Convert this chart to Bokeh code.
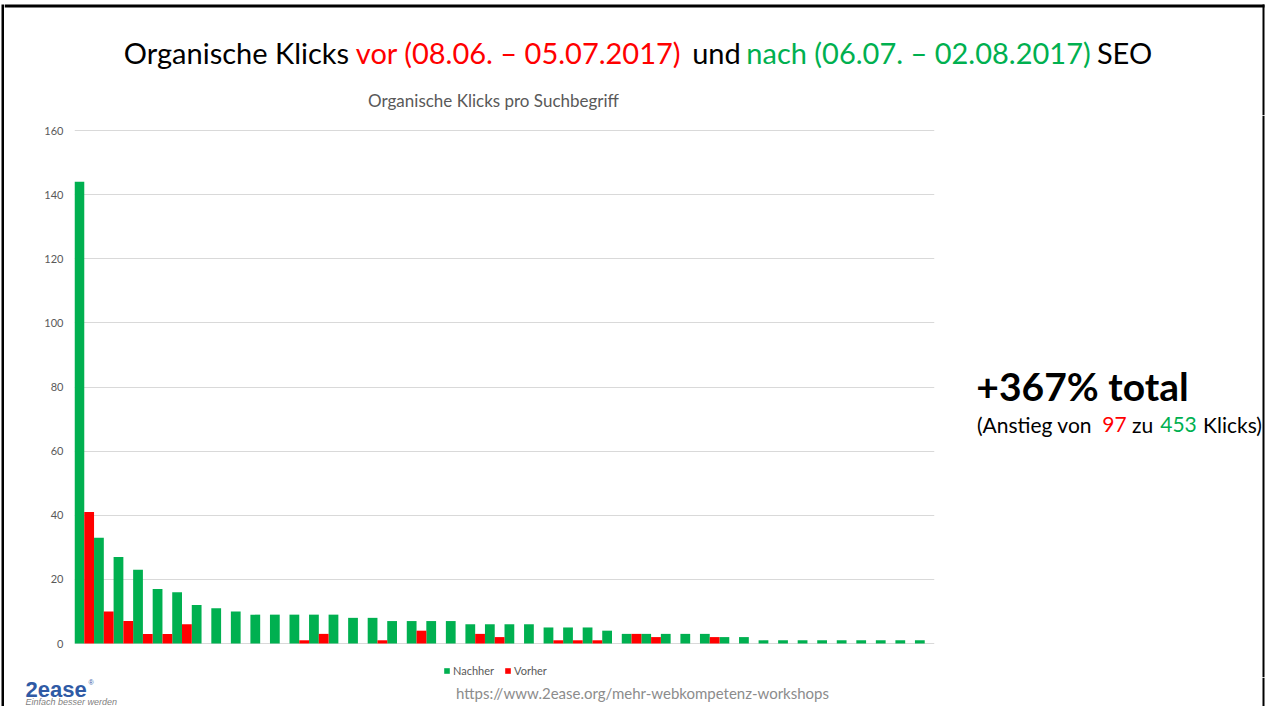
from bokeh.plotting import figure
from bokeh.layouts import column, row
from bokeh.models import (FactorRange, Range1d, FixedTicker, Label, Legend,
                          LegendItem, ColumnDataSource, BoxAnnotation)
from bokeh.transform import dodge
from bokeh.embed import file_html
from bokeh.resources import INLINE

# ---- data ----
terms = [f"Suchbegriff {i + 1}" for i in range(44)]
nachher = [144, 33, 27, 23, 17, 16, 12, 11, 10, 9, 9, 9, 9, 9, 8, 8, 7, 7, 7, 7,
           6, 6, 6, 6, 5, 5, 5, 4, 3, 3, 3, 3, 3, 2, 2, 1, 1, 1, 1, 1, 1, 1, 1, 1]
vorher = [41, 10, 7, 3, 3, 6, 0, 0, 0, 0, 0, 1, 3, 0, 0, 1, 0, 4, 0, 0,
          3, 2, 0, 0, 1, 1, 1, 0, 3, 2, 0, 0, 2, 0, 0, 0, 0, 0, 0, 0, 0, 0, 0, 0]
y_ticks = [0, 20, 40, 60, 80, 100, 120, 140, 160]
series_names = ["Nachher", "Vorher"]

GREEN = "#00b050"
RED = "#ff0000"
GREY = "#595959"
BLUE = "#2f5aa5"

# ---- page geometry (canvas pixels) ----
W, H = 1265, 706
STRIP = 4            # left black frame strip
TOP_H = 115          # title band (0 .. 115)
F_LEFT, F_RIGHT = 74, 934          # plot frame in canvas px
ZERO_Y, TOP_TICK_Y = 643, 130      # y of value 0 and value 160
F_BOTTOM = 677
MID_H = F_BOTTOM - TOP_H           # chart band
BOT_H = H - TOP_H - MID_H
CHART_W = 946        # x 4 .. 950
RIGHT_W = W - STRIP - CHART_W
PX_PER_UNIT = (ZERO_Y - TOP_TICK_Y) / 160.0


def text_fig(width, height, x0, y0):
    f = figure(width=width, height=height, x_range=Range1d(x0, x0 + width),
               y_range=Range1d(y0 + height, y0), output_backend="svg",
               toolbar_location=None, x_axis_location=None, y_axis_location=None,
               min_border=0)
    f.grid.visible = False
    f.outline_line_color = None
    return f


def lab(f, text, x, y, size, color="black", align="center", style="normal",
        font="Lato"):
    f.add_layout(Label(x=x, y=y, text=text, text_font=font,
                       text_font_size=f"{size}px", text_color=color,
                       text_align=align, text_baseline="middle",
                       text_font_style=style))


def frame_line(f, left, right, top, bottom):
    f.add_layout(BoxAnnotation(left=left, right=right, top=top, bottom=bottom,
                               fill_color="black", fill_alpha=1, line_color=None))


# ---- left strip (slide frame) ----
strip = figure(width=STRIP, height=H, output_backend="svg", toolbar_location=None,
               x_axis_location=None, y_axis_location=None,
               min_border_left=1, min_border_top=4, min_border_right=0,
               min_border_bottom=0, background_fill_color="black")
strip.grid.visible = False
strip.outline_line_color = None

# ---- title band ----
top = text_fig(W - STRIP, TOP_H, STRIP, 0)
frame_line(top, STRIP, W - 1, 4, 7)
frame_line(top, W - 3, W - 1, 4, TOP_H)
lab(top, "Organische Klicks", 236, 52, 29)
lab(top, "vor (08.06. – 05.07.2017)", 518, 52, 29, RED)
lab(top, "und", 716, 52, 29)
lab(top, "nach (06.07. – 02.08.2017)", 918, 52, 29, GREEN)
lab(top, "SEO", 1124, 52, 29)
lab(top, "Organische Klicks pro Suchbegriff", 493, 100, 17, GREY)

# ---- chart ----
src = ColumnDataSource(dict(term=terms, nachher=nachher, vorher=vorher))
y_start = -(F_BOTTOM - ZERO_Y) / PX_PER_UNIT
y_end = 160 + (TOP_TICK_Y - TOP_H) / PX_PER_UNIT
p = figure(width=CHART_W, height=MID_H,
           x_range=FactorRange(factors=terms, range_padding=0),
           y_range=Range1d(y_start, y_end), output_backend="svg",
           toolbar_location=None,
           min_border_left=F_LEFT - STRIP, min_border_right=STRIP + CHART_W - F_RIGHT,
           min_border_top=0, min_border_bottom=0)
p.outline_line_color = None
p.xaxis.visible = False
p.xgrid.grid_line_color = None
p.ygrid.grid_line_color = "#d9d9d9"
p.ygrid.grid_line_width = 1
p.yaxis.ticker = FixedTicker(ticks=y_ticks)
p.yaxis.axis_line_color = None
p.yaxis.major_tick_line_color = None
p.yaxis.minor_tick_line_color = None
p.yaxis.major_tick_out = 0
p.yaxis.major_label_standoff = 11
p.yaxis.major_label_text_font = "Lato"
p.yaxis.major_label_text_font_size = "11px"
p.yaxis.major_label_text_color = GREY

g = p.vbar(x=dodge("term", -0.25, range=p.x_range), top="nachher", width=0.5,
           source=src, fill_color=GREEN, line_color=None)
r = p.vbar(x=dodge("term", 0.25, range=p.x_range), top="vorher", width=0.5,
           source=src, fill_color=RED, line_color=None)

legend = Legend(items=[LegendItem(label=series_names[0], renderers=[g]),
                       LegendItem(label=series_names[1], renderers=[r])],
                orientation="horizontal", location=(443 - F_LEFT, 0),
                padding=0, margin=0, spacing=10, glyph_width=7, glyph_height=7,
                label_standoff=3, label_text_font="Lato",
                label_text_font_size="11px", label_text_color=GREY,
                background_fill_alpha=0, border_line_color=None)
p.add_layout(legend, "center")

# ---- right band ----
right = text_fig(RIGHT_W, MID_H, STRIP + CHART_W, TOP_H)
frame_line(right, W - 3, W - 1, TOP_H, TOP_H + MID_H)
lab(right, "+367% total", 1082, 385, 39, "black", style="bold")
lab(right, "(Anstieg von", 1034, 424, 21)
lab(right, "97", 1114, 424, 21, RED)
lab(right, "zu", 1142, 424, 21)
lab(right, "453", 1178, 424, 21, GREEN)
lab(right, "Klicks)", 1232, 424, 21)

# ---- bottom band ----
bottom = text_fig(W - STRIP, BOT_H, STRIP, TOP_H + MID_H)
frame_line(bottom, W - 3, W - 1, TOP_H + MID_H, H)
lab(bottom, "https://www.2ease.org/mehr-webkompetenz-workshops", 642, 692, 15,
    "#8c8c8c")
lab(bottom, "2ease", 25, 689, 22, BLUE, align="left", style="bold",
    font="Liberation Sans")
lab(bottom, "®", 88, 682, 7, BLUE, align="left", font="Liberation Sans")
lab(bottom, "Einfach besser werden", 25, 701.5, 9, "#7f7f7f", align="left",
    style="italic", font="Liberation Sans")

layout = row(strip, column(top, row(p, right), bottom))
open("out.html", "w").write(file_html(layout, INLINE))
